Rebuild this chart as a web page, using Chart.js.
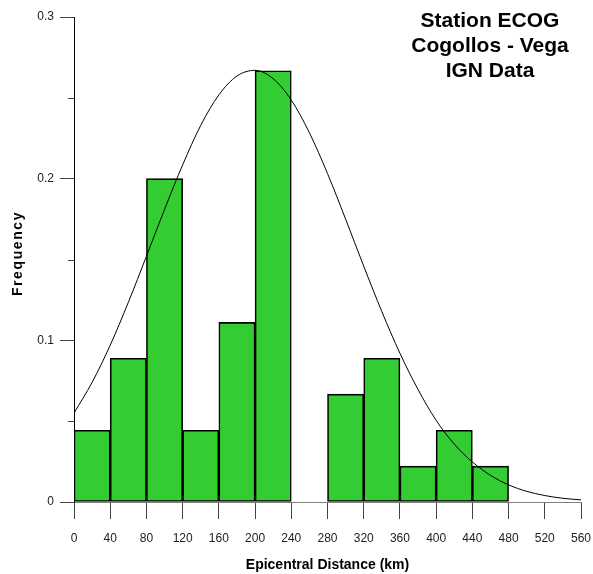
<!DOCTYPE html>
<html>
<head>
<meta charset="utf-8">
<script src="https://cdn.jsdelivr.net/npm/chart.js@4.4.1/dist/chart.umd.min.js"></script>
<style>
    body { margin: 0; background: #ffffff; }
    #contenedor { position: relative; width: 593px; height: 574px; }
    #titulo {
        position: absolute; left: 390px; top: 7px; width: 200px;
        text-align: center; font: bold 21px "Liberation Sans", Arial, sans-serif;
        line-height: 25px; color: #000;
    }
</style>
</head>
<body>
<div id="contenedor">
    <canvas id="grafica" width="593" height="574"></canvas>
    <div id="titulo">Station ECOG<br>Cogollos - Vega<br>IGN Data</div>
</div>
<script>
// histograma: inicio de cada clase (km) y su frecuencia relativa
const inicioClases = [0, 40, 80, 120, 160, 200, 240, 280, 320, 360, 400, 440];
const frecuencias  = [0.0444, 0.0889, 0.2, 0.0444, 0.1111, 0.2667, 0, 0.0667, 0.0889, 0.0222, 0.0444, 0.0222];
const anchoClase = 40;

const curvaX = [0, 20, 40, 60, 80, 100, 120, 140, 160, 180, 200, 220, 240, 260, 280,
                300, 320, 340, 360, 380, 400, 420, 440, 460, 480, 500, 520, 540, 560];
const curvaY = [0.0550, 0.0740, 0.0970, 0.1235, 0.1520, 0.1810, 0.2085, 0.2330, 0.2518, 0.2635, 0.2670,
                0.2618, 0.2486, 0.2284, 0.2032, 0.1750, 0.1459, 0.1178, 0.0920, 0.0696, 0.0505,
                0.0358, 0.0248, 0.0165, 0.0106, 0.0066, 0.0040, 0.0023, 0.0013];

const ticksX = [0, 40, 80, 120, 160, 200, 240, 280, 320, 360, 400, 440, 480, 520, 560];
const ticksY = [0, 0.1, 0.2, 0.3];
const etiquetasY = ["0", "0.1", "0.2", "0.3"];
const ticksMenoresY = [0.05, 0.15, 0.25];

const fuente = "'Liberation Sans', Arial, sans-serif";

const barras = [];
inicioClases.forEach((x, i) => {
    if (frecuencias[i] > 0) barras.push({ x: x + anchoClase / 2, y: frecuencias[i] });
});
const curva = curvaX.map((x, i) => ({ x: x, y: curvaY[i] }));

// marcas menores del eje Y y titulo vertical con espaciado
const extrasEjeY = {
    id: "extrasEjeY",
    afterDraw(chart) {
        const ctx = chart.ctx;
        const escala = chart.scales.y;
        const area = chart.chartArea;
        ctx.save();
        ctx.strokeStyle = "#444444";
        ctx.lineWidth = 1;
        ticksMenoresY.forEach(v => {
            const py = Math.round(escala.getPixelForValue(v)) + 0.5;
            ctx.beginPath();
            ctx.moveTo(area.left - 6, py);
            ctx.lineTo(area.left, py);
            ctx.stroke();
        });
        ctx.translate(18, (area.top + area.bottom) / 2 - 6);
        ctx.rotate(-Math.PI / 2);
        ctx.font = "bold 14px " + fuente;
        ctx.letterSpacing = "1.6px";
        ctx.fillStyle = "#000000";
        ctx.textAlign = "center";
        ctx.textBaseline = "middle";
        ctx.fillText("Frequency", 0, 0);
        ctx.restore();
    }
};

new Chart(document.getElementById("grafica"), {
    type: "bar",
    data: {
        datasets: [
            {
                type: "line",
                data: curva,
                borderColor: "#000000",
                borderWidth: 1,
                pointRadius: 0,
                cubicInterpolationMode: "monotone",
                fill: false,
                order: 0
            },
            {
                type: "bar",
                data: barras,
                backgroundColor: "#33cc33",
                borderColor: "#000000",
                borderWidth: 1.6,
                borderSkipped: false,
                barPercentage: 1,
                categoryPercentage: 1,
                order: 1
            }
        ]
    },
    options: {
        responsive: false,
        animation: false,
        layout: { padding: { left: 0, top: 17, right: 12, bottom: 0 } },
        plugins: {
            legend: { display: false },
            tooltip: { enabled: false }
        },
        scales: {
            x: {
                type: "linear",
                min: 0,
                max: 560,
                offset: false,
                afterBuildTicks: (escala) => { escala.ticks = ticksX.map(v => ({ value: v })); },
                afterFit: (escala) => {
                    escala.height = 72;
                    escala.paddingLeft = 0;
                    escala.paddingRight = 0;
                },
                grid: {
                    offset: false,
                    drawOnChartArea: false,
                    drawTicks: true,
                    tickLength: 17,
                    tickColor: "#444444"
                },
                border: { display: true, color: "#808080", width: 1 },
                ticks: {
                    autoSkip: false,
                    maxRotation: 0,
                    padding: 12,
                    color: "#222222",
                    font: { family: fuente, size: 12 }
                },
                title: {
                    display: true,
                    text: "Epicentral Distance (km)",
                    color: "#000000",
                    padding: { top: 2, bottom: 0 },
                    font: { family: fuente, size: 14, weight: "bold" }
                }
            },
            y: {
                min: 0,
                max: 0.3,
                afterBuildTicks: (escala) => { escala.ticks = ticksY.map(v => ({ value: v })); },
                afterFit: (escala) => {
                    escala.width = 74;
                    escala.paddingTop = 0;
                    escala.paddingBottom = 0;
                },
                grid: {
                    drawOnChartArea: false,
                    drawTicks: true,
                    tickLength: 14,
                    tickColor: "#444444"
                },
                border: { display: true, color: "#000000", width: 1 },
                ticks: {
                    padding: 6,
                    color: "#222222",
                    font: { family: fuente, size: 12 },
                    callback: (valor, indice) => etiquetasY[indice]
                },
                title: { display: false }
            }
        }
    },
    plugins: [extrasEjeY]
});
</script>
</body>
</html>
